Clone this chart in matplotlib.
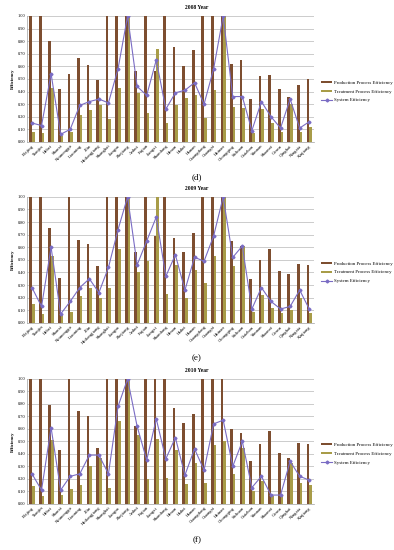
import matplotlib.pyplot as plt
import numpy as np

plt.rcParams['font.family'] = ['Liberation Serif', 'DejaVu Serif']

provinces = ['Beijing', 'Tianjin', 'Hebei', 'Shanxi', 'Neimenggu', 'Liaoning', 'Jilin',
             'Heilongjiang', 'Shanghai', 'Jiangsu', 'Zhejiang', 'Anhui', 'Fujian', 'Jiangxi',
             'Shandong', 'Henan', 'Hubei', 'Hunan', 'Guangdong', 'Guangxi', 'Hainan',
             'Chongqing', 'Sichuan', 'Guizhou', 'Yunnan', 'Shaanxi', 'Gansu', 'Qinghai',
             'Ningxia', 'Xinjiang']

years = ['2008', '2009', '2010']
panel_tags = ['(d)', '(e)', '(f)']

prod_2008 = [1.00, 1.00, 0.80, 0.42, 0.54, 0.67, 0.61, 0.49, 1.00, 1.00, 1.00, 0.56, 1.00, 0.56, 1.00,
             0.75, 0.60, 0.73, 1.00, 1.00, 1.00, 0.62, 0.65, 0.34, 0.52, 0.53, 0.42, 0.36, 0.45, 0.50]
treat_2008 = [0.08, 0.07, 0.43, 0.05, 0.08, 0.21, 0.25, 0.29, 0.18, 0.43, 1.00, 0.39, 0.23, 0.74, 0.15,
              0.29, 0.35, 0.37, 0.19, 0.41, 1.00, 0.28, 0.27, 0.07, 0.26, 0.15, 0.08, 0.30, 0.08, 0.12]
sys_2008 = [0.15, 0.13, 0.54, 0.06, 0.10, 0.29, 0.32, 0.34, 0.31, 0.58, 1.00, 0.44, 0.37, 0.65, 0.26,
            0.39, 0.41, 0.47, 0.30, 0.58, 1.00, 0.36, 0.36, 0.09, 0.32, 0.20, 0.11, 0.34, 0.11, 0.16]

prod_2009 = [1.00, 1.00, 0.75, 0.36, 1.00, 0.66, 0.63, 0.45, 1.00, 1.00, 1.00, 0.56, 1.00, 0.69, 1.00,
             0.67, 0.56, 0.71, 1.00, 1.00, 1.00, 0.65, 0.61, 0.35, 0.50, 0.59, 0.41, 0.39, 0.47, 0.46]
treat_2009 = [0.15, 0.07, 0.53, 0.06, 0.09, 0.21, 0.28, 0.20, 0.28, 0.59, 1.00, 0.40, 0.49, 1.00, 0.23,
              0.46, 0.20, 0.42, 0.32, 0.53, 1.00, 0.45, 0.61, 0.09, 0.22, 0.12, 0.08, 0.10, 0.20, 0.08]
sys_2009 = [0.28, 0.13, 0.60, 0.07, 0.17, 0.28, 0.35, 0.24, 0.44, 0.74, 1.00, 0.46, 0.65, 0.84, 0.37,
            0.54, 0.26, 0.52, 0.49, 0.69, 1.00, 0.52, 0.61, 0.11, 0.28, 0.17, 0.11, 0.13, 0.26, 0.11]

prod_2010 = [1.00, 1.00, 0.79, 0.43, 1.00, 0.74, 0.70, 0.45, 1.00, 1.00, 1.00, 0.62, 1.00, 1.00, 1.00,
             0.77, 0.65, 0.72, 1.00, 1.00, 1.00, 0.60, 0.57, 0.34, 0.48, 0.58, 0.41, 0.37, 0.49, 0.48]
treat_2010 = [0.14, 0.06, 0.51, 0.07, 0.12, 0.15, 0.30, 0.37, 0.13, 0.66, 1.00, 0.55, 0.20, 0.52, 0.21,
              0.43, 0.16, 0.33, 0.17, 0.47, 0.50, 0.24, 0.45, 0.10, 0.18, 0.06, 0.06, 0.33, 0.17, 0.15]
sys_2010 = [0.24, 0.11, 0.61, 0.11, 0.22, 0.24, 0.39, 0.39, 0.24, 0.78, 1.00, 0.62, 0.35, 0.68, 0.36,
            0.53, 0.23, 0.44, 0.27, 0.64, 0.67, 0.30, 0.50, 0.13, 0.22, 0.07, 0.07, 0.34, 0.22, 0.19]

prod_all = [prod_2008, prod_2009, prod_2010]
treat_all = [treat_2008, treat_2009, treat_2010]
sys_all = [sys_2008, sys_2009, sys_2010]

c_prod = '#7d4e30'
c_treat = '#a89c48'
c_sys = '#7a6cc4'

fig = plt.figure(figsize=(3.94, 5.5), dpi=100)

# axes boxes (left, bottom, width, height) in figure fraction
boxes = [(0.069, 0.742, 0.728, 0.229),
         (0.069, 0.413, 0.728, 0.229),
         (0.069, 0.084, 0.728, 0.227)]
title_y = [0.987, 0.658, 0.327]
tag_y = [0.677, 0.349, 0.018]

x = np.arange(len(provinces))
w = 0.28

for i in range(3):
    ax = fig.add_axes(boxes[i])
    b1 = ax.bar(x - w / 2, prod_all[i], w, color=c_prod, zorder=2)
    b2 = ax.bar(x + w / 2, treat_all[i], w, color=c_treat, zorder=2)
    l1, = ax.plot(x, sys_all[i], '-', color=c_sys, lw=0.8, marker='D', ms=1.5, zorder=3)

    ax.set_xlim(-0.5, len(provinces) - 0.5)
    ax.set_ylim(0, 1.0)
    ax.set_yticks(np.arange(0, 1.01, 0.1))
    ax.set_yticklabels(['%.2f' % v for v in np.arange(0, 1.01, 0.1)], fontsize=3.2)
    ax.set_xticks(x)
    ax.set_xticklabels(provinces, rotation=45, ha='right', rotation_mode='anchor', fontsize=3.4)
    ax.tick_params(axis='both', length=0, pad=1.5)
    ax.yaxis.grid(True, color='#b8b8b8', lw=0.5, zorder=0)
    ax.set_axisbelow(True)
    for s in ['top', 'right']:
        ax.spines[s].set_visible(False)
    ax.spines['left'].set_color('#a0a0a0')
    ax.spines['bottom'].set_color('#a0a0a0')
    ax.spines['left'].set_linewidth(0.5)
    ax.spines['bottom'].set_linewidth(0.5)
    ax.set_ylabel('Efficiency', fontsize=3.4, fontweight='bold', labelpad=2)

    ax.legend([b1, b2, l1],
              ['Production Process Efficiency', 'Treatment Process Efficiency', 'System Efficiency'],
              loc='center left', bbox_to_anchor=(1.01, 0.40), fontsize=3.5, frameon=False,
              handlelength=2.2, handleheight=0.35, labelspacing=1.0, handletextpad=0.5)

    fig.text(0.5, title_y[i], years[i] + ' Year', ha='center', va='center',
             fontsize=4, fontweight='bold')
    fig.text(0.5, tag_y[i], panel_tags[i], ha='center', va='center', fontsize=6.5)

plt.savefig('out.png', dpi=100)
